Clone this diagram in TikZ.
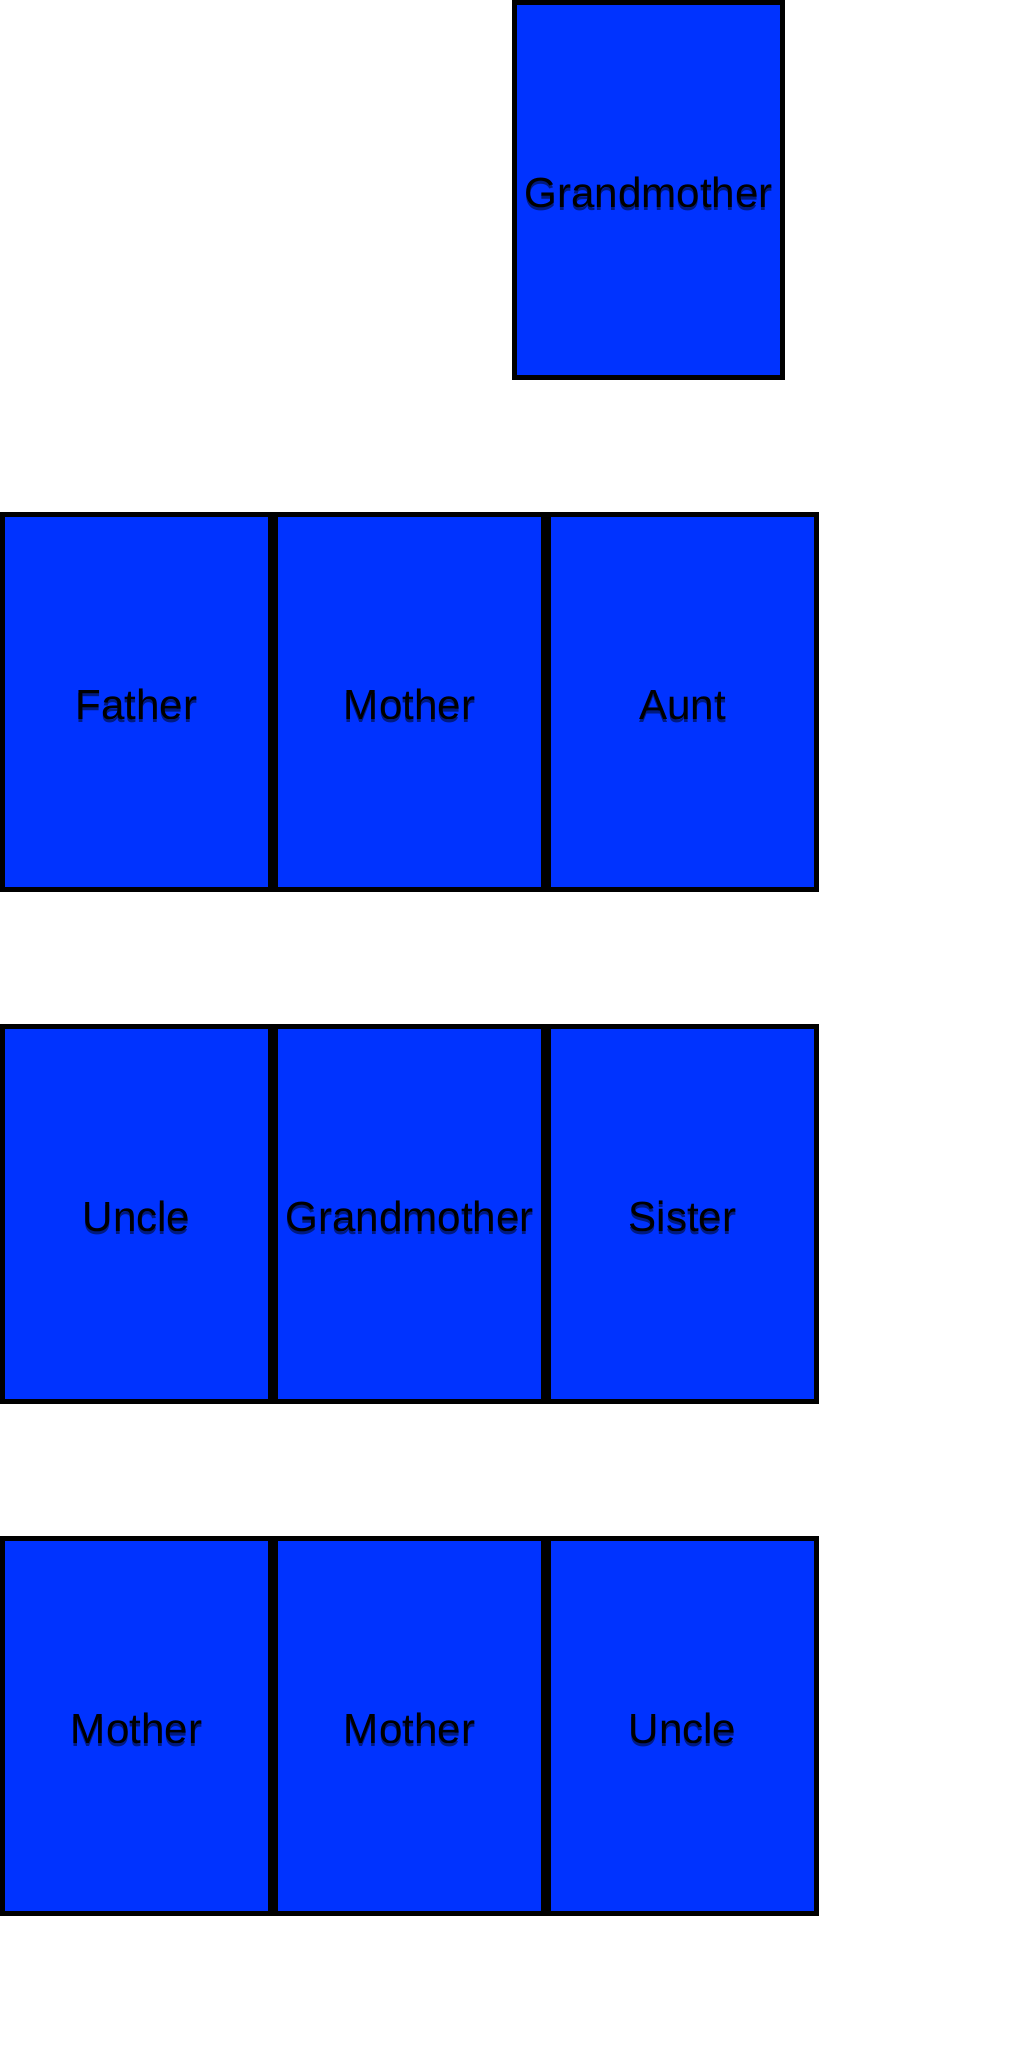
\documentclass[tikz,border=0pt]{standalone}
\usepackage{fontspec}
\setmainfont{Liberation Sans}
\usetikzlibrary{positioning, shadows}

\definecolor{boxblue}{HTML}{0033FF}
\definecolor{textshade}{HTML}{001A80}
\newcommand{\shadelabel}[1]{\rlap{\raisebox{-0.05cm}{\color{textshade}#1}}#1}

\begin{document}
\begin{tikzpicture}[x=0.02cm, y=0.02cm, every node/.style={font=\fontsize{24}{28}\selectfont}]
  % Styles
  \tikzset{
    member/.style={rectangle, draw=black, line width=0.1cm, fill=boxblue, text=black,
      minimum width=5.36cm, minimum height=7.5cm, inner sep=0pt, text height=20pt, text depth=0pt,
      drop shadow={shadow xshift=0cm, shadow yshift=-0.05cm, fill=black, opacity=0.35}}
  }
  \useasboundingbox (0,0) rectangle (1024,2048);

  % Top
  \node[member] (gm) at (648.5,1858) {\shadelabel{Grandmother}};

  % Row 1
  \node[member] (father) at (136.5,1346) {\shadelabel{Father}};
  \node[member] (mother) at (409.5,1346) {\shadelabel{Mother}};
  \node[member] (aunt) at (682.5,1346) {\shadelabel{Aunt}};

  % Row 2
  \node[member] (uncle) at (136.5,834) {\shadelabel{Uncle}};
  \node[member] (gm2) at (409.5,834) {\shadelabel{Grandmother}};
  \node[member] (sister) at (682.5,834) {\shadelabel{Sister}};

  % Row 3
  \node[member] (mother2) at (136.5,322) {\shadelabel{Mother}};
  \node[member] (mother3) at (409.5,322) {\shadelabel{Mother}};
  \node[member] (uncle2) at (682.5,322) {\shadelabel{Uncle}};
\end{tikzpicture}
\end{document}
